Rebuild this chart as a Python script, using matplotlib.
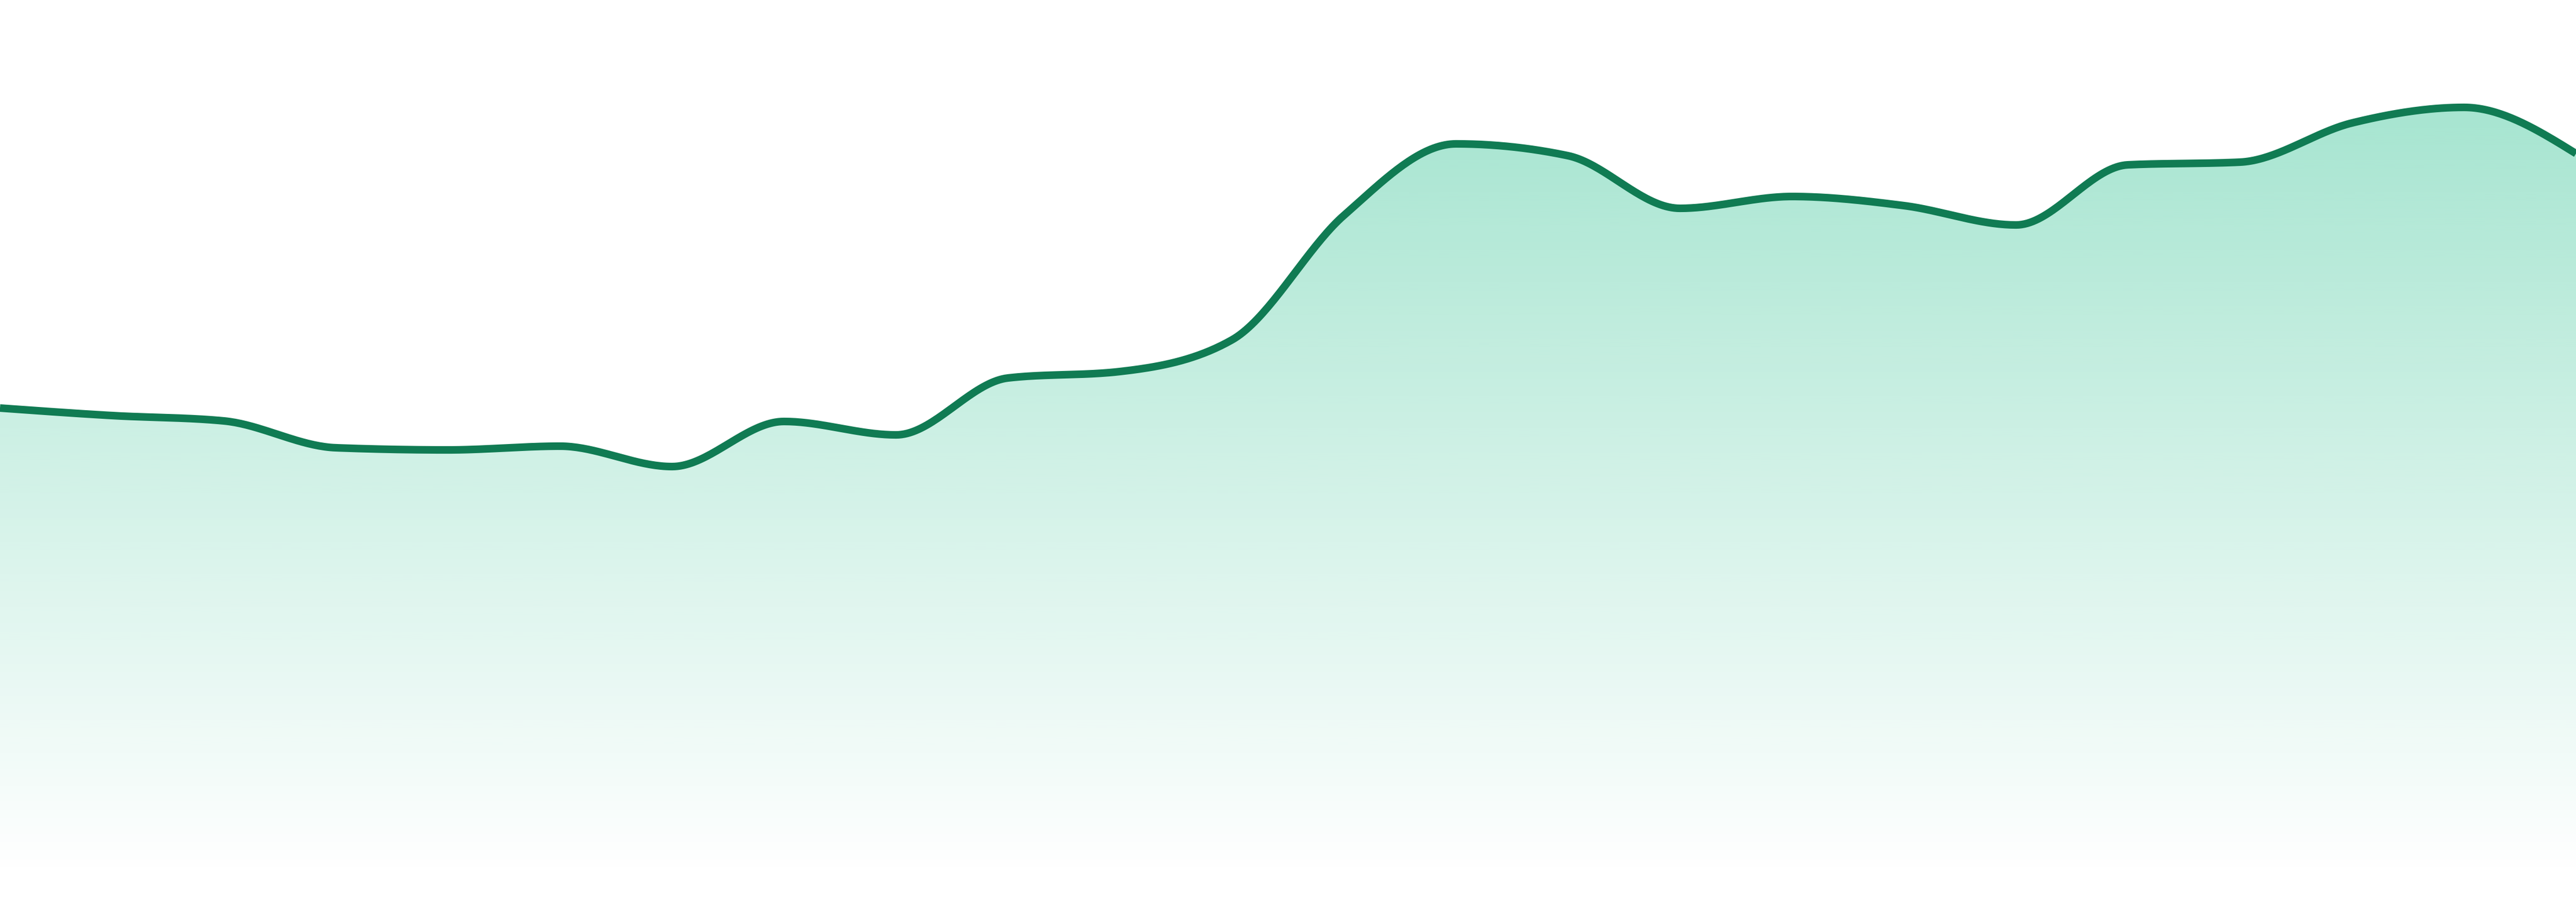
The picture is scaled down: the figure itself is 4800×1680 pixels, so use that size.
import numpy as np
import matplotlib
matplotlib.use('Agg')
import matplotlib.pyplot as plt
from matplotlib.colors import to_rgb

# values (24 evenly spaced points)
values = [87.2, 85.8, 84.8, 79.8, 79.4, 80.1, 76.3, 84.7, 82.2, 92.8, 94.0, 99.9,
          123.1, 136.4, 134.2, 124.4, 126.6, 124.9, 121.3, 132.5, 133.0, 140.3, 143.2, 134.6]
x_idx = list(range(len(values)))

line_color = '#107B53'
fill_color = '#10B981'


def monotone_x(x, y, n=40):
    # same idea as d3.curveMonotoneX (Fritsch-Carlson style tangents)
    x = np.asarray(x, float)
    y = np.asarray(y, float)
    h = np.diff(x)
    s = np.diff(y) / h
    t = np.zeros_like(y)
    for i in range(1, len(y) - 1):
        s0, s1 = s[i - 1], s[i]
        p = (s0 * h[i] + s1 * h[i - 1]) / (h[i - 1] + h[i])
        t[i] = (np.sign(s0) + np.sign(s1)) * min(abs(s0), abs(s1), 0.5 * abs(p))
    t[0] = (3 * s[0] - t[1]) / 2
    t[-1] = (3 * s[-1] - t[-2]) / 2
    xs, ys = [], []
    for i in range(len(h)):
        u = np.linspace(0, 1, n, endpoint=False)
        h00 = 2 * u**3 - 3 * u**2 + 1
        h10 = u**3 - 2 * u**2 + u
        h01 = -2 * u**3 + 3 * u**2
        h11 = u**3 - u**2
        xs.append(x[i] + u * h[i])
        ys.append(h00 * y[i] + h10 * h[i] * t[i] + h01 * y[i + 1] + h11 * h[i] * t[i + 1])
    xs.append([x[-1]])
    ys.append([y[-1]])
    return np.concatenate(xs), np.concatenate(ys)


xs, ys = monotone_x(x_idx, values)

fig = plt.figure(figsize=(16, 5.6), dpi=300)
ax = fig.add_axes([0, 0, 1, 1])
ax.set_xlim(0, len(values) - 1)
ax.set_ylim(-4.8, 163.2)
ax.axis('off')

# gradient fill under the curve
poly = ax.fill_between(xs, ys, 0, color='none', lw=0)
top = max(values)
rgb = to_rgb(fill_color)
grad = np.zeros((256, 1, 4))
grad[:, 0, :3] = rgb
grad[:, 0, 3] = np.linspace(0.37, 0.0, 256)
img = ax.imshow(grad, aspect='auto', extent=[0, len(values) - 1, 0, top],
                origin='upper', interpolation='bicubic', zorder=1)
img.set_clip_path(poly.get_paths()[0], transform=ax.transData)

ax.plot(xs, ys, color=line_color, lw=3.4, solid_capstyle='butt', zorder=2)

fig.savefig('out.png', dpi=300, facecolor='white')
